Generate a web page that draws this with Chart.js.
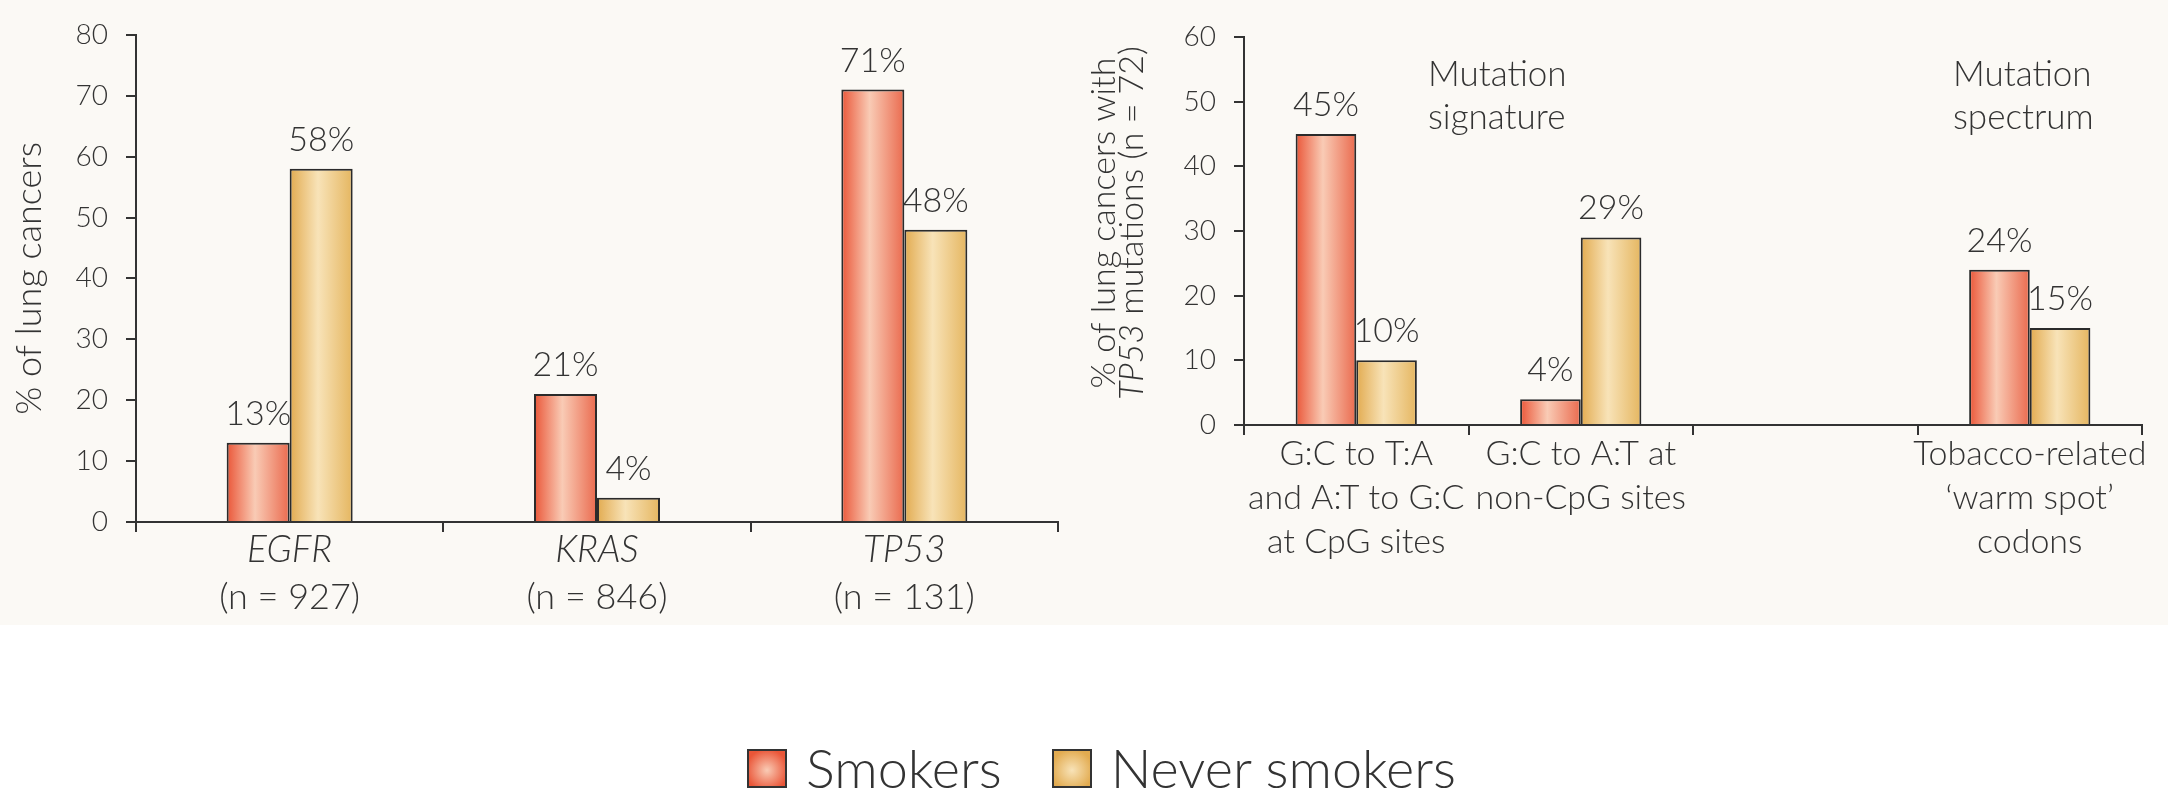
<!DOCTYPE html>
<html>
<head>
<meta charset="utf-8">
<script src="https://cdn.jsdelivr.net/npm/chart.js@4.4.0/dist/chart.umd.min.js"></script>
<style>
    html, body { margin: 0; padding: 0; background: #fff; }
    body { width: 2168px; height: 801px; position: relative; overflow: hidden; font-family: Lato, sans-serif; color: #333; }
    .panel-bg { position: absolute; left: 0; top: 0; width: 2168px; height: 625px; background: #fbf9f5; }
    .chart-box { position: absolute; top: 0; }
    #left-box { left: 0; }
    #right-box { left: 1084px; }
    #legend { position: absolute; top: 741px; left: 747px; display: flex; align-items: center; font-size: 54px; line-height: 54px; font-weight: 300; }
    .key { display: flex; align-items: center; margin-right: 50px; }
    .swatch { width: 36px; height: 35px; border: 2px solid #333; margin-right: 19px; }
</style>
</head>
<body>
<div class="panel-bg"></div>
<div class="chart-box" id="left-box"><canvas id="geneChart" width="1084" height="640"></canvas></div>
<div class="chart-box" id="right-box"><canvas id="mutationChart" width="1084" height="640"></canvas></div>
<div id="legend"></div>

<script>
// --- DATA ---
const seriesNames = ['Smokers', 'Never smokers'];

const geneLabels = ['EGFR', 'KRAS', 'TP53'];
const geneCounts = ['(n = 927)', '(n = 846)', '(n = 131)'];
const smokersByGene = [13, 21, 71];
const neverByGene = [58, 4, 48];
const geneAxisMax = 80;
const geneAxisStep = 10;

const mutationLabels = [
    ['G:C to T:A', 'and A:T to G:C', 'at CpG sites'],
    ['G:C to A:T at', 'non-CpG sites'],
    [''],
    ['Tobacco-related', '\u2018warm spot\u2019', 'codons']
];
const smokersByMutation = [45, 4, null, 24];
const neverByMutation = [10, 29, null, 15];
const mutationAxisMax = 60;
const mutationAxisStep = 10;

const mutationAxisTitle = ['% of lung cancers with', 'TP53', ' mutations (n = 72)'];
const groupNotes = [
    { lines: ['Mutation', 'signature'], left: 184 },
    { lines: ['Mutation', 'spectrum'], left: 709 }
];

// --- STYLE ---
const INK = '#333';
const FONT = 'Lato';
const W = 300;
const smokerShade = ['#ea5638', '#f9cbb5', '#ea6a4e'];
const neverShade = ['#e2ab50', '#f8e3b8', '#e5b660'];

// cylinder-style horizontal shading for each bar
const barShading = {
    id: 'barShading',
    beforeDatasetsDraw(chart) {
        const ctx = chart.ctx;
        chart.data.datasets.forEach((ds, i) => {
            chart.getDatasetMeta(i).data.forEach(bar => {
                const half = bar.width / 2;
                const g = ctx.createLinearGradient(bar.x - half, 0, bar.x + half, 0);
                g.addColorStop(0, ds.shade[0]);
                g.addColorStop(0.45, ds.shade[1]);
                g.addColorStop(1, ds.shade[2]);
                bar.options.backgroundColor = g;
            });
        });
    }
};

// "NN%" above every bar
const valueLabels = {
    id: 'valueLabels',
    afterDatasetsDraw(chart) {
        const ctx = chart.ctx;
        ctx.save();
        ctx.font = `${W} 34px ${FONT}`;
        ctx.fillStyle = INK;
        ctx.textAlign = 'center';
        ctx.textBaseline = 'alphabetic';
        chart.data.datasets.forEach((ds, i) => {
            chart.getDatasetMeta(i).data.forEach((bar, j) => {
                const v = ds.data[j];
                if (v === null || v === undefined) return;
                ctx.fillText(v + '%', bar.x, bar.y - 18);
            });
        });
        ctx.restore();
    }
};

// sample sizes under the italic gene names
const sampleSizes = {
    id: 'sampleSizes',
    afterDraw(chart) {
        const { ctx, chartArea } = chart;
        const xs = chart.scales.x;
        ctx.save();
        ctx.font = `${W} 36px ${FONT}`;
        ctx.fillStyle = INK;
        ctx.textAlign = 'center';
        ctx.textBaseline = 'alphabetic';
        geneCounts.forEach((t, i) => ctx.fillText(t, xs.getPixelForValue(i), chartArea.bottom + 87));
        ctx.restore();
    }
};

// two-line rotated axis title with the gene name in italics
const stackedYTitle = {
    id: 'stackedYTitle',
    afterDraw(chart) {
        const { ctx, chartArea } = chart;
        const cy = (chartArea.top + chartArea.bottom) / 2 - 8;
        const plain = `${W} 34px ${FONT}`;
        const ital = `italic ${W} 34px ${FONT}`;
        ctx.save();
        ctx.translate(0, cy);
        ctx.rotate(-Math.PI / 2);
        ctx.fillStyle = INK;
        ctx.textBaseline = 'middle';
        ctx.textAlign = 'center';
        ctx.font = plain;
        ctx.fillText(mutationAxisTitle[0], 0, 20);
        ctx.textAlign = 'left';
        ctx.font = ital;
        const w1 = ctx.measureText(mutationAxisTitle[1]).width;
        ctx.font = plain;
        const w2 = ctx.measureText(mutationAxisTitle[2]).width;
        const x0 = -(w1 + w2) / 2;
        ctx.font = ital;
        ctx.fillText(mutationAxisTitle[1], x0, 48);
        ctx.font = plain;
        ctx.fillText(mutationAxisTitle[2], x0 + w1, 48);
        ctx.restore();
    }
};

// "Mutation signature" / "Mutation spectrum" headings
const groupHeadings = {
    id: 'groupHeadings',
    afterDraw(chart) {
        const { ctx, chartArea } = chart;
        ctx.save();
        ctx.font = `${W} 35px ${FONT}`;
        ctx.fillStyle = INK;
        ctx.textAlign = 'left';
        ctx.textBaseline = 'alphabetic';
        groupNotes.forEach(n => {
            n.lines.forEach((line, k) => ctx.fillText(line, chartArea.left + n.left, chartArea.top + 49 + k * 43));
        });
        ctx.restore();
    }
};

function barDataset(label, data, shade, catPct) {
    return {
        label, data, shade,
        backgroundColor: () => shade[0],
        borderColor: '#2b2b2b',
        borderWidth: 2,
        borderSkipped: 'bottom',
        categoryPercentage: catPct,
        barPercentage: 1
    };
}

function axisOptions(max, step, width, xHeight, xFont, xPad) {
    return {
        x: {
            grid: { drawOnChartArea: false, offset: true, tickLength: 10, color: INK, lineWidth: 2 },
            border: { color: INK, width: 2 },
            ticks: { font: xFont, color: INK, padding: xPad, maxRotation: 0, autoSkip: false },
            afterFit: s => { s.height = xHeight; }
        },
        y: {
            min: 0, max,
            ticks: { stepSize: step, font: { family: FONT, size: 28, weight: W }, color: INK, padding: 18 },
            grid: { drawOnChartArea: false, tickLength: 10, color: INK, lineWidth: 2 },
            border: { color: INK, width: 2 },
            afterFit: s => { s.width = width; }
        }
    };
}

document.addEventListener('DOMContentLoaded', () => {
    buildGeneChart();
    buildMutationChart();
    buildLegend();
});

function buildGeneChart() {
    const scales = axisOptions(geneAxisMax, geneAxisStep, 136, 118,
        { family: FONT, size: 37, style: 'italic', weight: W }, -4);
    scales.y.title = {
        display: true, text: '% of lung cancers', color: INK,
        font: { family: FONT, size: 36, weight: W }, padding: { top: 8, bottom: 0 }
    };
    new Chart(document.getElementById('geneChart'), {
        type: 'bar',
        data: {
            labels: geneLabels,
            datasets: [
                barDataset(seriesNames[0], smokersByGene, smokerShade, 0.41),
                barDataset(seriesNames[1], neverByGene, neverShade, 0.41)
            ]
        },
        options: {
            responsive: false, animation: false,
            layout: { padding: { top: 29, right: 26, left: 0, bottom: 0 } },
            plugins: { legend: { display: false }, tooltip: { enabled: false } },
            scales
        },
        plugins: [barShading, valueLabels, sampleSizes]
    });
}

function buildMutationChart() {
    const scales = axisOptions(mutationAxisMax, mutationAxisStep, 160, 215,
        { family: FONT, size: 34, lineHeight: 1.3, weight: W }, -3);
    new Chart(document.getElementById('mutationChart'), {
        type: 'bar',
        data: {
            labels: mutationLabels,
            datasets: [
                barDataset(seriesNames[0], smokersByMutation, smokerShade, 0.54),
                barDataset(seriesNames[1], neverByMutation, neverShade, 0.54)
            ]
        },
        options: {
            responsive: false, animation: false,
            layout: { padding: { top: 37, right: 26, left: 0, bottom: 0 } },
            plugins: { legend: { display: false }, tooltip: { enabled: false } },
            scales
        },
        plugins: [barShading, valueLabels, stackedYTitle, groupHeadings]
    });
}

function buildLegend() {
    const legend = document.getElementById('legend');
    [smokerShade, neverShade].forEach((shade, i) => {
        const key = document.createElement('div');
        key.className = 'key';
        const sw = document.createElement('div');
        sw.className = 'swatch';
        sw.style.background = `radial-gradient(circle at 50% 55%, ${shade[1]} 0%, ${shade[0]} 80%)`;
        const txt = document.createElement('span');
        txt.textContent = seriesNames[i];
        key.append(sw, txt);
        legend.append(key);
    });
}
</script>
</body>
</html>
